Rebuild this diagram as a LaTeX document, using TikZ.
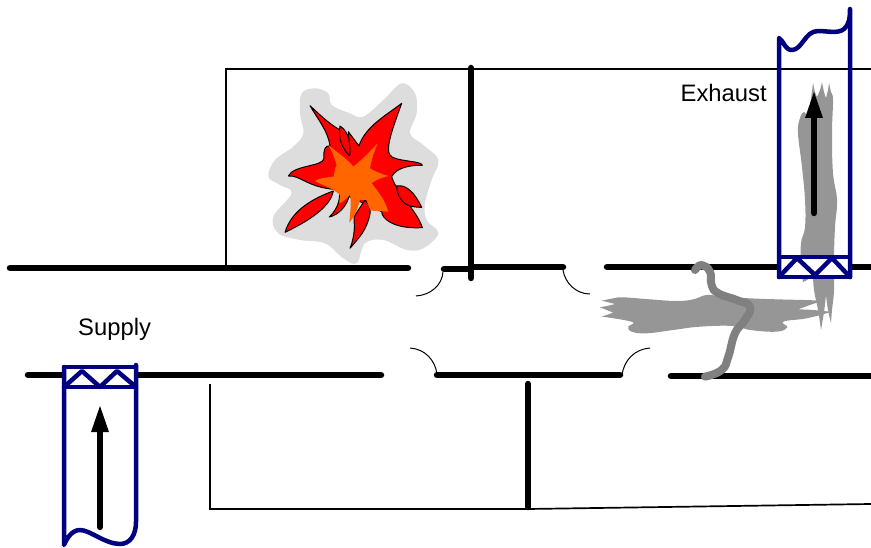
\documentclass[tikz,border=0pt]{standalone}
\usepackage{fontspec}
\setmainfont{Liberation Sans}
\definecolor{ductblue}{RGB}{0,0,128}
\definecolor{flamered}{RGB}{255,0,0}
\definecolor{flameorange}{RGB}{255,102,0}
\definecolor{halo}{RGB}{221,221,221}
\definecolor{smokegray}{RGB}{150,150,150}
\definecolor{trailgray}{RGB}{128,128,128}
\tikzset{
  wall/.style={line width=6.5pt,line cap=round,black},
  thinwall/.style={line width=1.7pt,black,line join=miter},
  doorarc/.style={line width=1pt,black},
  duct/.style={line width=4.5pt,ductblue,line join=round,line cap=round},
  band/.style={fill=white,draw=ductblue,line width=4.5pt,line join=round},
  flame/.style={fill=flamered,draw=black,line width=1pt,line join=round},
  flowshaft/.style={line width=6.5pt,line cap=round,black},
  flowhead/.style={fill=black,draw=none},
  softrun/.style={smooth,tension=0.7},
  label/.style={font=\fontsize{23.8}{26}\selectfont,inner sep=0pt,anchor=base west}
}
\begin{document}
\begin{tikzpicture}[x=1pt,y=-1pt]
\useasboundingbox (0,0) rectangle (871,548);
% thin room outlines
\draw[thinwall] (226,268) -- (226,69) -- (871,69);
\draw[thinwall] (210,384) -- (210,509) -- (528,509) -- (871,504);
% walls
\draw[wall] (10,268) -- (408,268);
\draw[wall] (444,269) -- (471,269);
\draw[wall] (471,267) -- (563,267);
\draw[wall] (607,267) -- (871,267);
\draw[wall] (28,375) -- (381,375);
\draw[wall] (437,375) -- (620,375);
\draw[wall] (671,376) -- (871,376);
\draw[wall] (471,68) -- (471,278);
\draw[wall] (528,384) -- (528,507);
% door arcs
\draw[doorarc] (443,272) .. controls (442,285) and (431,295) .. (416,296);
\draw[doorarc] (563,270) .. controls (565,283) and (576,294) .. (590,294);
\draw[doorarc] (437,374) .. controls (435,360) and (425,349) .. (410,348);
\draw[doorarc] (622,375) .. controls (624,360) and (635,349) .. (650,348);
% fire
\begin{scope}[shift={(250,70)},x=0.3333pt,y=-0.3333pt]
\fill[halo] plot[smooth cycle,tension=0.6] coordinates {(155,70)(195,55)(235,70)(245,105)(300,130)(340,140)(400,90)(455,40)(495,70)(500,130)(480,190)(520,225)(565,270)(545,330)(525,400)(530,450)(565,490)(520,535)(470,540)(400,510)(345,520)(320,580)(280,565)(225,520)(150,510)(85,490)(70,440)(125,370)(90,345)(55,320)(75,270)(130,230)(160,190)(150,130)};
\path[flame] (180,107) .. controls (205,150) and (235,185) .. (240,228)
  .. controls (225,225) and (220,240) .. (222,265)
  .. controls (220,290) and (130,285) .. (115,318)
  .. controls (150,315) and (170,350) .. (250,358)
  -- (395,425)
  .. controls (395,445) and (430,478) .. (517,473)
  .. controls (500,420) and (440,370) .. (425,320)
  .. controls (440,290) and (490,285) .. (517,286)
  .. controls (518,272) and (430,275) .. (420,255)
  .. controls (405,235) and (430,170) .. (455,100)
  .. controls (410,135) and (345,170) .. (327,228)
  -- (295,185) -- (300,255) -- (270,180)
  .. controls (235,160) and (205,130) .. (180,107) -- cycle;
\path[flame] (270,168) .. controls (266,195) and (268,225) .. (298,257)
  .. controls (303,225) and (298,185) .. (270,168) -- cycle;
\path[flame] (440,348) .. controls (470,342) and (495,370) .. (515,412)
  .. controls (480,412) and (445,405) .. (440,348) -- cycle;
\path[flame] (250,363) .. controls (190,385) and (125,420) .. (105,487)
  .. controls (150,465) and (240,420) .. (250,363) -- cycle;
\path[flame] (268,358) .. controls (270,380) and (270,410) .. (238,441)
  .. controls (265,435) and (290,410) .. (298,376) -- cycle;
\path[flame] (300,535) .. controls (318,490) and (312,460) .. (312,440)
  -- (345,390) .. controls (360,405) and (362,420) .. (360,432)
  .. controls (350,480) and (330,500) .. (300,535) -- cycle;
\fill[flameorange] (235,225) .. controls (250,250) and (255,270) .. (260,285)
  .. controls (250,300) and (255,315) .. (250,320)
  .. controls (230,322) and (205,325) .. (195,333)
  .. controls (215,345) and (250,355) .. (270,375)
  -- (268,400) .. controls (280,395) and (290,385) .. (300,375)
  .. controls (305,400) and (300,430) .. (298,458)
  .. controls (315,440) and (325,410) .. (330,390)
  -- (350,390) .. controls (355,410) and (360,420) .. (365,422)
  -- (415,425) .. controls (405,390) and (385,365) .. (365,340)
  .. controls (385,325) and (400,322) .. (415,318)
  .. controls (395,312) and (375,305) .. (360,295)
  .. controls (365,265) and (375,240) .. (383,220)
  .. controls (360,245) and (335,270) .. (310,290)
  .. controls (295,270) and (265,250) .. (235,225) -- cycle;
\end{scope}
% smoke rising in the exhaust duct
\fill[smokegray]
  plot[softrun] coordinates {(813,83)(815,92)(817,97)}
  -- plot[softrun] coordinates {(817,97)(820,90)(822,82)}
  -- plot[softrun] coordinates {(822,82)(824,92)(826,98)}
  -- plot[softrun] coordinates {(826,98)(828,90)(829,83)}
  -- plot[softrun] coordinates {(829,83)(831,92)(833,100)(832,133)(833,173)(837,200)(835,227)(834,257)(834,290)(832,310)(831,323)}
  -- plot[softrun] coordinates {(831,323)(828,310)(826,295)}
  -- plot[softrun] coordinates {(826,295)(824,312)(821,330)}
  -- plot[softrun] coordinates {(821,330)(818,310)(814,290)(813,275)}
  -- plot[softrun] coordinates {(813,275)(807,280)(803,282)}
  -- plot[softrun] coordinates {(803,282)(801,263)(801,243)(805,227)(805,200)(802,167)(798,133)(800,118)(804,112)(807,115)(810,105)(813,83)} -- cycle;
\begin{scope}[shift={(590,250)},x=0.3333pt,y=-0.3333pt]
\fill[smokegray]
  plot[softrun] coordinates {(35,152)(70,145)(100,142)(180,148)(260,153)(310,148)(350,135)(400,140)(480,145)(560,148)(640,150)(700,152)}
  -- plot[softrun] coordinates {(700,152)(660,165)(625,178)}
  -- plot[softrun] coordinates {(625,178)(670,180)(720,185)}
  -- plot[softrun] coordinates {(720,187)(650,205)(580,215)(592,232)(560,245)(480,240)(430,228)(330,230)(250,240)(170,250)(125,245)(115,230)(130,218)(90,208)(35,200)}
  -- plot[softrun] coordinates {(35,200)(55,193)(70,188)}
  -- plot[softrun] coordinates {(70,188)(50,180)(30,172)}
  -- plot[softrun] coordinates {(30,172)(55,167)(75,162)}
  -- plot[softrun] coordinates {(75,162)(55,157)(35,152)} -- cycle;
\draw[trailgray,line width=8pt,line cap=round,line join=round] plot[smooth,tension=0.8] coordinates {(315,60)(335,45)(360,65)(365,105)(385,130)(440,150)(480,170)(465,210)(435,250)(415,320)(395,360)(345,380)};
\end{scope}
% exhaust duct
\path[band] (779,257) rectangle (850,277);
\draw[duct] (779,277) -- (797,258) -- (815,275) -- (832,258) -- (850,277);
\draw[duct] (779,277) -- (779,38) .. controls (785,43) and (785,50) .. (792,50)
  .. controls (802,50) and (805,31) .. (818,31)
  .. controls (828,31) and (838,34) .. (844,29)
  .. controls (849,25) and (850,18) .. (850,9) -- (850,277);
\draw[flowshaft] (814,213) -- (814,112);
\fill[flowhead] (814,92) -- (823,118) -- (805,118) -- cycle;
% supply duct
\path[band] (64,367) rectangle (136,387);
\draw[duct] (64,387) -- (82,371) -- (100,387) -- (117,371) -- (136,387);
\draw[duct] (136,365) -- (136,522) .. controls (136,535) and (130,544) .. (120,544)
  .. controls (105,544) and (90,530) .. (80,530)
  .. controls (72,530) and (67,538) .. (64,545) -- (64,367);
\draw[flowshaft] (100,527) -- (100,425);
\fill[flowhead] (100,406) -- (109,432) -- (91,432) -- cycle;
% labels
\node[label] (exhaustlabel) at (680.5,102) {Exhaust};
\node[label] (supplylabel) at (78,335) {Supply};
\end{tikzpicture}
\end{document}
